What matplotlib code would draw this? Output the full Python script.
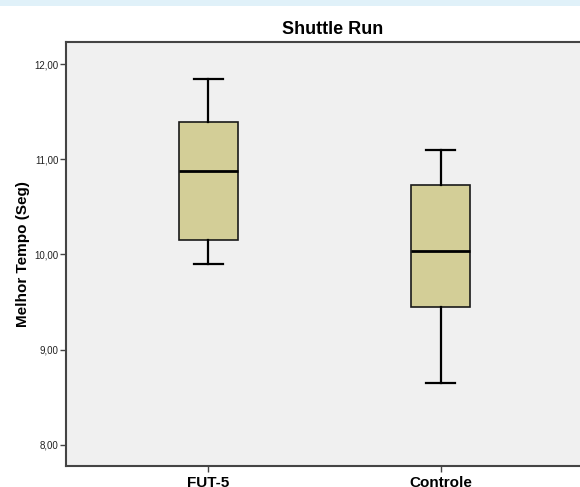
import matplotlib
matplotlib.use('Agg')
import matplotlib.pyplot as plt
from matplotlib.patches import Rectangle

plt.rcParams['font.family'] = ['Liberation Sans', 'DejaVu Sans']

# ---------------- DATA ----------------
groups = ['FUT-5', 'Controle']
whisker_low = [9.90, 8.65]
q1 = [10.15, 9.45]
median = [10.88, 10.04]
q3 = [11.39, 10.73]
whisker_high = [11.84, 11.10]

stats = []
for i, g in enumerate(groups):
    stats.append({'label': g, 'whislo': whisker_low[i], 'q1': q1[i], 'med': median[i],
                  'q3': q3[i], 'whishi': whisker_high[i], 'fliers': []})

# ---------------- PLOT ----------------
W, H = 580, 487
fig = plt.figure(figsize=(W / 100, H / 100), dpi=100)
fig.patch.set_facecolor('white')

# light blue band at the very top
fig.add_artist(Rectangle((0, 1 - 6 / H), 1, 6 / H, transform=fig.transFigure,
                         facecolor='#E0F1F9', edgecolor='none'))

left, right, top, bottom = 65.7, 583.3, 42.3, 465.7
ax = fig.add_axes([left / W, 1 - bottom / H, (right - left) / W, (bottom - top) / H])
ax.set_facecolor('#F0F0F0')

ax.bxp(stats, positions=[0, 1], widths=0.252, patch_artist=True, showfliers=False,
       boxprops=dict(facecolor='#D3CE97', edgecolor='#1a1a1a', linewidth=1.2),
       medianprops=dict(color='black', linewidth=2),
       whiskerprops=dict(color='black', linewidth=1.6),
       capprops=dict(color='black', linewidth=1.6),
       capwidths=0.126)

ax.set_xlim(-0.614, 1.614)
ax.set_ylim(7.78, 12.23)
ax.set_yticks([8, 9, 10, 11, 12])
ax.set_yticklabels(['8,00', '9,00', '10,00', '11,00', '12,00'], fontsize=7, color='#222222')
ax.set_xticks([0, 1])
ax.set_xticklabels(groups, fontsize=11, fontweight='bold')
ax.tick_params(axis='both', direction='out', length=4.3, width=1, color='#444444')
ax.tick_params(axis='x', pad=3)
ax.tick_params(axis='y', pad=1)

for s in ax.spines.values():
    s.set_color('#444444')
    s.set_linewidth(1.5)

ax.set_ylabel('Melhor Tempo (Seg)', fontsize=11, fontweight='bold', labelpad=3)
ax.set_title('Shuttle Run', fontsize=13, fontweight='bold', pad=6, x=0.516)

fig.savefig('out.png', dpi=100)
